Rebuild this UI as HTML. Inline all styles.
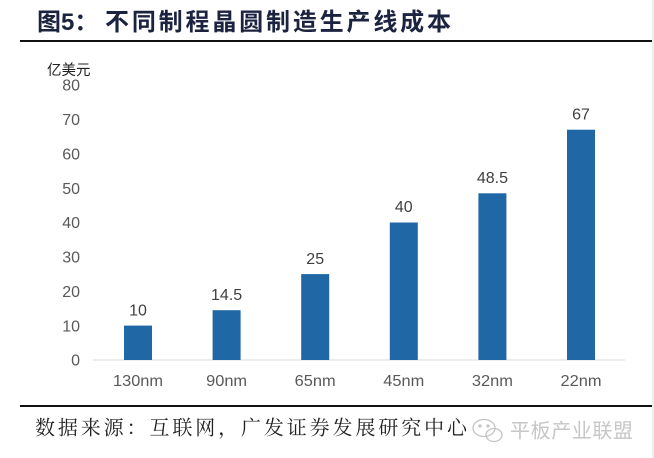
<!DOCTYPE html>
<html><head><meta charset="utf-8"><style>
html,body{margin:0;padding:0;background:#fff;}
svg{display:block;}
</style></head><body>
<svg width="654" height="458" viewBox="0 0 654 458" xmlns="http://www.w3.org/2000/svg">
<rect x="0" y="0" width="654" height="458" fill="#ffffff"/>
<rect x="652" y="0" width="2" height="458" fill="#eeeeee"/>
<!-- title -->
<g font-family="'Liberation Sans','Noto Sans CJK SC',sans-serif" font-weight="bold" fill="#1c2340" font-size="24">
<text x="37" y="30">图<tspan font-family="'Liberation Sans',sans-serif">5</tspan>：</text>
<text x="105" y="30" textLength="346" lengthAdjust="spacing">不同制程晶圆制造生产线成本</text>
</g>
<rect x="20" y="40" width="632" height="2" fill="#111"/>
<!-- unit -->
<text x="47" y="75" font-family="'Liberation Sans','Noto Sans CJK SC',sans-serif" font-size="14.5" fill="#222">亿美元</text>
<!-- y ticks -->
<g font-family="'Liberation Sans',sans-serif" font-size="16" fill="#595959" text-anchor="end">
<text x="80" y="365.7">0</text>
<text x="80" y="331.3">10</text>
<text x="80" y="297">20</text>
<text x="80" y="262.6">30</text>
<text x="80" y="228.2">40</text>
<text x="80" y="193.8">50</text>
<text x="80" y="159.5">60</text>
<text x="80" y="125.1">70</text>
<text x="80" y="90.7">80</text>
</g>
<!-- axis -->
<rect x="93" y="359.5" width="532" height="1" fill="#d9d9d9"/>
<!-- bars -->
<g fill="#1f67a5">
<rect x="124" y="325.6" width="28" height="34.4"/>
<rect x="212.6" y="310.2" width="28" height="49.8"/>
<rect x="301.2" y="274.1" width="28" height="85.9"/>
<rect x="389.8" y="222.5" width="28" height="137.5"/>
<rect x="478.4" y="193.3" width="28" height="166.7"/>
<rect x="567" y="129.7" width="28" height="230.3"/>
</g>
<!-- value labels -->
<g font-family="'Liberation Sans',sans-serif" font-size="16" fill="#404040" text-anchor="middle">
<text x="138" y="315.3">10</text>
<text x="226.6" y="299.9">14.5</text>
<text x="315.2" y="263.8">25</text>
<text x="403.8" y="212.2">40</text>
<text x="492.4" y="183">48.5</text>
<text x="581" y="119.4">67</text>
</g>
<!-- x labels -->
<g font-family="'Liberation Sans',sans-serif" font-size="16" fill="#595959" text-anchor="middle">
<text x="138" y="386" textLength="50" lengthAdjust="spacingAndGlyphs">130nm</text>
<text x="226.6" y="386" textLength="41" lengthAdjust="spacingAndGlyphs">90nm</text>
<text x="315.2" y="386" textLength="41" lengthAdjust="spacingAndGlyphs">65nm</text>
<text x="403.8" y="386" textLength="41" lengthAdjust="spacingAndGlyphs">45nm</text>
<text x="492.4" y="386" textLength="41" lengthAdjust="spacingAndGlyphs">32nm</text>
<text x="581" y="386" textLength="41" lengthAdjust="spacingAndGlyphs">22nm</text>
</g>
<!-- bottom rule -->
<rect x="20" y="405" width="632" height="2" fill="#111"/>
<!-- source -->
<text x="35" y="434.5" font-family="'Liberation Serif','Noto Serif CJK SC',serif" font-size="20" fill="#222" textLength="432" lengthAdjust="spacing">数据来源：互联网，广发证券发展研究中心</text>
<!-- watermark icon -->
<g fill="none" stroke="#c4c4c4" stroke-width="1.3">
<ellipse cx="484" cy="428" rx="11" ry="8.5"/>
<ellipse cx="494" cy="435" rx="8" ry="6.5"/>
<circle cx="480" cy="426" r="1" fill="#c4c4c4"/>
<circle cx="488" cy="426" r="1" fill="#c4c4c4"/>
</g>
<text x="510" y="437.5" font-family="'Liberation Sans','Noto Sans CJK SC',sans-serif" font-size="20" fill="#c6c6c6" textLength="123" lengthAdjust="spacing">平板产业联盟</text>
</svg>
</body></html>
